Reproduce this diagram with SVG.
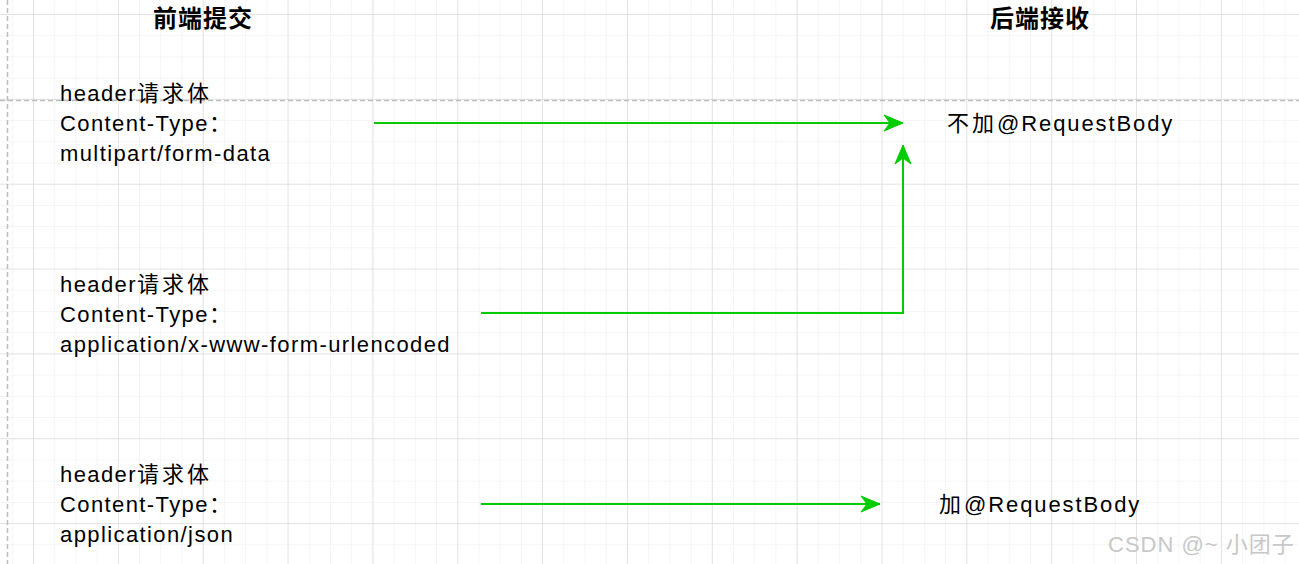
<svg xmlns="http://www.w3.org/2000/svg" width="1299" height="564" viewBox="0 0 1299 564">
  <style>
    .lbl { font-family: "Liberation Sans", "Noto Sans CJK SC", sans-serif; font-size: 22px; letter-spacing: 1.4px; fill: #000; }
    .rlbl { letter-spacing: 1.9px; }
    .cjk { letter-spacing: 3px; }
    .ttl { font-family: "Liberation Sans", "Noto Sans CJK SC", sans-serif; font-size: 24px; font-weight: bold; letter-spacing: 1px; fill: #000; }
    .conn { fill: none; stroke: #00CC00; stroke-width: 2; }
    .wm { font-family: "Liberation Sans", "Noto Sans CJK SC", sans-serif; font-size: 22px; letter-spacing: 1px; fill: #c8c8c8; }
    .dash { stroke: #bdbdbd; stroke-width: 1.5; stroke-dasharray: 5 3; fill: none; }
  </style>
  <defs>
    <pattern id="minor" patternUnits="userSpaceOnUse" x="33" y="14" width="21.2125" height="21.2125">
      <path d="M0 0 H21.2125 M0 0 V21.2125" stroke="#ebebeb" stroke-width="1" fill="none"/>
    </pattern>
    <pattern id="major" patternUnits="userSpaceOnUse" x="33" y="14" width="84.85" height="84.85">
      <path d="M0 0 H84.85 M0 0 V84.85" stroke="#d2d2d2" stroke-width="1" fill="none"/>
    </pattern>
    <marker id="arrow" markerUnits="userSpaceOnUse" markerWidth="22" markerHeight="18" viewBox="-20 -9 22 18" refX="0" refY="0" orient="auto">
      <path d="M0 0 L-19 -8 L-13 0 L-19 8 Z" fill="#00CC00" stroke="#00CC00" stroke-width="1"/>
    </marker>
  </defs>

  <rect width="1299" height="564" fill="#ffffff"/>
  <rect width="1299" height="564" fill="url(#minor)"/>
  <rect width="1299" height="564" fill="url(#major)"/>
  <path class="dash" d="M7.5 0 V564"/>
  <path class="dash" d="M0 100.5 H1299"/>

  <g id="title-front">
    <text class="ttl" x="153" y="27">前端提交</text>
  </g>
  <g id="title-back">
    <text class="ttl" x="990" y="27">后端接收</text>
  </g>

  <g id="node-multipart">
    <text class="lbl" x="60" y="101">header<tspan class="cjk">请求体</tspan></text>
    <text class="lbl" x="60" y="131">Content-Type：</text>
    <text class="lbl" x="60" y="161">multipart/form-data</text>
  </g>
  <g id="node-urlencoded">
    <text class="lbl" x="60" y="292">header<tspan class="cjk">请求体</tspan></text>
    <text class="lbl" x="60" y="322">Content-Type：</text>
    <text class="lbl" x="60" y="352">application/x-www-form-urlencoded</text>
  </g>
  <g id="node-json">
    <text class="lbl" x="60" y="482">header<tspan class="cjk">请求体</tspan></text>
    <text class="lbl" x="60" y="512">Content-Type：</text>
    <text class="lbl" x="60" y="542">application/json</text>
  </g>
  <g id="node-no-requestbody">
    <text class="lbl rlbl" x="947" y="131"><tspan class="cjk">不加</tspan>@RequestBody</text>
  </g>
  <g id="node-requestbody">
    <text class="lbl rlbl" x="939" y="512"><tspan class="cjk">加</tspan>@RequestBody</text>
  </g>

  <g id="connectors">
    <path class="conn" d="M374 123 H903" marker-end="url(#arrow)"/>
    <path class="conn" d="M481 313 H903 V145" marker-end="url(#arrow)"/>
    <path class="conn" d="M481 504 H880" marker-end="url(#arrow)"/>
  </g>

  <text class="wm" x="1108" y="552">CSDN @~ 小团子</text>
</svg>
